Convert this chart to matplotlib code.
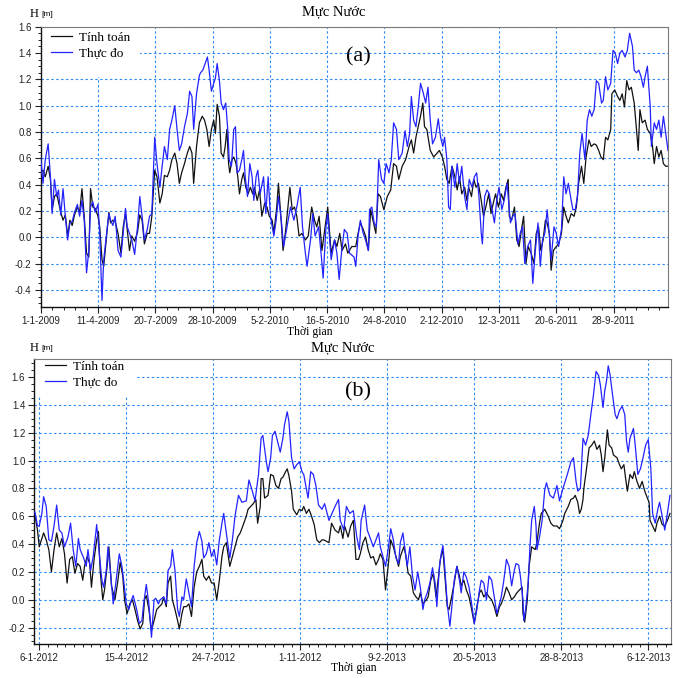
import datetime as dt
import matplotlib
matplotlib.use("Agg")
import matplotlib.pyplot as plt
from matplotlib.patches import Rectangle
from matplotlib.lines import Line2D
from matplotlib.ticker import MultipleLocator, FixedLocator, FixedFormatter, FormatStrFormatter

# ---------------------------------------------------------------- data
START_A = dt.date(2009, 1, 1)
START_B = dt.date(2012, 1, 1)

xtick_labels_a = ["1-1-2009", "11-4-2009", "20-7-2009", "28-10-2009", "5-2-2010",
                  "16-5-2010", "24-8-2010", "2-12-2010", "12-3-2011", "20-6-2011",
                  "28-9-2011"]
xtick_labels_b = ["6-1-2012", "15-4-2012", "24-7-2012", "1-11-2012", "9-2-2013",
                  "20-5-2013", "28-8-2013", "6-12-2013"]

series_names = ["Tính toán", "Thực đo"]

# (day since 1-1-2009, water level [m]) -- computed
calc_a = [
    (0, 0.49), (4, 0.51), (8, 0.46), (13, 0.54), (17, 0.44), (20, 0.21), (24, 0.31), (28, 0.33),
    (31, 0.27), (35, 0.19), (39, 0.13), (43, 0.17), (47, 0.01), (51, 0.13), (55, 0.09), (59, 0.17),
    (64, 0.23), (68, 0.19), (72, 0.37), (76, 0.16), (80, -0.12), (84, -0.15), (87, 0.37), (91, 0.23),
    (95, 0.22), (100, 0.16), (103, 0.08), (107, -0.17), (110, -0.22), (115, 0.01), (119, 0.19),
    (122, 0.11), (126, 0.13), (130, 0.12), (135, 0.03), (140, -0.12), (144, 0.08), (148, 0.18),
    (151, 0.06), (155, -0.10), (159, 0.01), (164, -0.03), (169, 0.04), (173, 0.17), (177, 0.13),
    (181, -0.05), (186, 0.03), (190, 0.03), (194, 0.16), (199, 0.51), (203, 0.46), (208, 0.26),
    (212, 0.33), (216, 0.47), (221, 0.46), (225, 0.51), (229, 0.59), (234, 0.64), (238, 0.56),
    (242, 0.41), (246, 0.49), (251, 0.56), (256, 0.64), (260, 0.69), (264, 0.64), (267, 0.41),
    (272, 0.69), (277, 0.87), (282, 0.92), (286, 0.89), (290, 0.82), (294, 0.69), (298, 0.82),
    (302, 0.89), (305, 0.79), (308, 1.01), (312, 0.92), (315, 0.64), (319, 0.61), (322, 0.69),
    (325, 0.82), (328, 0.56), (330, 0.49), (334, 0.59), (337, 0.61), (341, 0.56), (344, 0.46),
    (347, 0.33), (351, 0.44), (354, 0.49), (358, 0.38), (362, 0.33), (366, 0.38), (370, 0.33),
    (373, 0.38), (378, 0.28), (382, 0.36), (386, 0.16), (391, 0.26), (395, 0.23), (399, 0.16),
    (404, 0.13), (407, 0.03), (412, 0.23), (415, 0.41), (420, 0.11), (423, -0.10), (427, 0.03),
    (435, 0.38), (439, 0.21), (443, 0.23), (447, 0.16), (451, 0.01), (456, 0.03), (462, -0.02),
    (467, 0.01), (473, 0.23), (478, 0.13), (482, 0.08), (486, 0.16), (491, -0.10), (501, 0.23),
    (507, -0.12), (513, -0.02), (517, -0.07), (522, 0.03), (526, -0.10), (532, -0.05), (536, -0.12),
    (543, -0.07), (550, -0.07), (554, 0.03), (558, 0.11), (563, 0.06), (567, 0.01), (572, -0.10),
    (576, 0.21), (580, 0.13), (585, 0.03), (589, 0.33), (593, 0.31), (599, 0.21), (605, 0.31),
    (611, 0.36), (616, 0.56), (621, 0.54), (625, 0.44), (631, 0.54), (637, 0.59), (643, 0.69),
    (647, 0.74), (651, 0.64), (655, 0.76), (659, 0.84), (663, 0.92), (667, 1.02), (670, 0.84),
    (674, 0.82), (680, 0.66), (686, 0.61), (692, 0.64), (696, 0.66), (701, 0.61), (705, 0.54),
    (709, 0.44), (713, 0.41), (718, 0.54), (723, 0.46), (727, 0.36), (731, 0.46), (735, 0.33),
    (740, 0.38), (744, 0.28), (747, 0.38), (752, 0.31), (756, 0.44), (760, 0.38), (764, 0.41),
    (769, 0.28), (773, 0.16), (777, 0.23), (782, 0.33), (786, 0.18), (790, 0.26), (794, 0.33),
    (799, 0.23), (804, 0.33), (808, 0.28), (812, 0.38), (816, 0.44), (818, 0.16), (822, 0.13),
    (827, 0.23), (831, -0.02), (835, -0.07), (840, 0.08), (843, 0.16), (847, -0.20), (851, -0.07),
    (856, -0.12), (861, -0.20), (865, 0.03), (869, 0.08), (873, -0.10), (877, -0.02), (881, 0.13),
    (884, 0.11), (888, 0.03), (891, -0.25), (895, -0.10), (900, -0.07), (904, -0.05), (909, 0.03),
    (913, 0.23), (917, 0.16), (921, 0.11), (926, 0.18), (931, 0.16), (935, 0.23), (939, 0.41),
    (944, 0.54), (948, 0.41), (952, 0.61), (957, 0.74), (961, 0.69), (966, 0.71), (970, 0.70),
    (974, 0.66), (978, 0.61), (982, 0.59), (986, 0.76), (990, 0.74), (995, 0.82), (997, 1.09),
    (1002, 1.12), (1007, 1.07), (1011, 1.04), (1015, 1.09), (1019, 0.99), (1023, 1.19),
    (1027, 1.12), (1031, 1.14), (1036, 1.02), (1040, 0.82), (1043, 0.66), (1046, 0.97),
    (1050, 0.87), (1055, 0.89), (1059, 0.82), (1064, 0.79), (1068, 0.69), (1071, 0.56),
    (1075, 0.69), (1079, 0.61), (1083, 0.66), (1087, 0.56), (1091, 0.54), (1096, 0.54),
]

# (day since 1-1-2009, water level [m]) -- observed
obs_a = [
    (0, 0.61), (4, 0.41), (8, 0.59), (13, 0.71), (17, 0.46), (20, 0.18), (24, 0.44), (28, 0.31),
    (31, 0.36), (35, 0.17), (39, 0.37), (43, 0.16), (47, -0.02), (51, 0.11), (55, 0.12), (59, 0.19),
    (64, 0.25), (68, 0.16), (72, 0.28), (76, 0.13), (80, -0.27), (84, -0.10), (87, 0.23), (91, 0.27),
    (95, 0.19), (100, 0.25), (103, 0.03), (107, -0.48), (110, -0.17), (115, 0.03), (119, 0.18),
    (122, 0.13), (126, 0.09), (130, 0.16), (135, -0.10), (140, -0.15), (144, 0.03), (148, 0.22),
    (151, 0.08), (155, 0.03), (159, -0.02), (164, -0.13), (169, 0.08), (173, 0.31), (177, 0.16),
    (181, -0.02), (186, 0.06), (190, 0.16), (194, 0.18), (199, 0.76), (203, 0.56), (208, 0.38),
    (212, 0.54), (216, 0.69), (221, 0.59), (225, 0.82), (229, 0.89), (234, 1.00), (238, 0.82),
    (242, 0.66), (246, 0.71), (251, 0.84), (256, 0.94), (260, 1.11), (264, 1.07), (267, 0.82),
    (272, 1.09), (277, 1.23), (279, 1.25), (283, 1.27), (287, 1.32), (291, 1.37), (294, 1.27),
    (298, 1.11), (302, 1.17), (305, 1.21), (308, 1.32), (312, 1.19), (315, 1.02), (319, 0.97),
    (323, 1.02), (327, 0.79), (329, 0.59), (333, 0.54), (337, 0.82), (340, 0.84), (343, 0.49),
    (347, 0.51), (351, 0.59), (354, 0.66), (357, 0.46), (361, 0.31), (365, 0.56), (369, 0.46),
    (372, 0.28), (376, 0.46), (379, 0.51), (383, 0.33), (389, 0.46), (393, 0.18), (397, 0.46),
    (401, 0.16), (407, 0.01), (411, 0.13), (415, 0.31), (420, 0.13), (424, -0.07), (430, 0.08),
    (436, 0.23), (442, 0.13), (447, 0.23), (453, 0.38), (457, 0.08), (462, -0.12), (465, -0.22),
    (471, -0.02), (475, 0.18), (479, 0.01), (485, 0.08), (490, -0.15), (493, -0.31), (498, 0.08),
    (501, 0.18), (507, -0.17), (513, -0.02), (517, -0.12), (521, -0.32), (525, -0.12), (530, 0.06),
    (535, 0.03), (539, -0.12), (547, -0.15), (550, -0.22), (554, 0.01), (558, 0.13), (563, 0.03),
    (567, -0.02), (572, -0.10), (574, 0.21), (578, 0.23), (582, 0.11), (586, 0.08), (590, 0.59),
    (595, 0.44), (599, 0.41), (603, 0.56), (608, 0.49), (612, 0.59), (616, 0.87), (621, 0.82),
    (625, 0.59), (631, 0.64), (636, 0.81), (640, 0.69), (644, 0.79), (647, 1.07), (651, 0.89),
    (655, 0.84), (659, 0.99), (663, 1.17), (667, 1.11), (672, 1.02), (676, 1.14), (680, 0.89),
    (684, 0.71), (689, 0.76), (694, 0.90), (698, 0.76), (702, 0.69), (705, 0.76), (709, 0.59),
    (712, 0.23), (715, 0.21), (718, 0.54), (723, 0.38), (727, 0.56), (731, 0.41), (735, 0.54),
    (740, 0.31), (744, 0.21), (748, 0.44), (753, 0.38), (757, 0.46), (761, 0.49), (765, 0.31),
    (769, 0.03), (771, -0.05), (775, 0.31), (779, 0.36), (783, 0.33), (787, 0.23), (792, 0.11),
    (796, 0.28), (800, 0.38), (805, 0.21), (809, 0.28), (814, 0.41), (820, 0.11), (824, 0.16),
    (828, 0.18), (833, -0.05), (837, 0.03), (841, 0.08), (845, -0.20), (850, -0.07), (855, -0.02),
    (859, -0.35), (863, -0.12), (868, 0.11), (872, -0.22), (876, -0.02), (880, 0.03), (884, 0.21),
    (888, 0.01), (891, -0.17), (896, 0.08), (900, 0.03), (904, -0.07), (909, 0.06), (913, 0.46),
    (917, 0.33), (921, 0.41), (926, 0.28), (929, 0.21), (933, 0.21), (937, 0.31), (941, 0.64),
    (945, 0.79), (950, 0.59), (954, 0.89), (958, 0.97), (962, 0.92), (966, 0.97), (970, 1.19),
    (974, 1.17), (979, 1.02), (982, 1.04), (986, 1.22), (990, 1.12), (995, 1.17), (999, 1.42),
    (1003, 1.40), (1007, 1.32), (1011, 1.40), (1015, 1.42), (1020, 1.37), (1024, 1.42),
    (1028, 1.55), (1033, 1.45), (1036, 1.27), (1040, 1.25), (1044, 1.27), (1048, 1.22),
    (1052, 1.14), (1055, 1.22), (1059, 1.30), (1064, 0.99), (1066, 0.69), (1071, 0.87),
    (1075, 0.82), (1079, 0.89), (1083, 0.76), (1087, 0.92), (1091, 0.79), (1095, 0.66),
]

# (day since 1-1-2012, water level [m]) -- computed
calc_b = [
    (0, 0.61), (3, 0.50), (5, 0.38), (8, 0.44), (10, 0.48), (13, 0.43), (16, 0.36), (19, 0.20),
    (22, 0.36), (25, 0.48), (28, 0.38), (31, 0.44), (34, 0.33), (37, 0.12), (40, 0.29), (43, 0.31),
    (46, 0.19), (49, 0.26), (52, 0.24), (55, 0.14), (57, 0.24), (60, 0.31), (63, 0.26), (65, 0.09),
    (68, 0.29), (71, 0.43), (73, 0.49), (75, 0.21), (78, 0.00), (80, 0.07), (83, 0.24), (85, 0.38),
    (88, 0.10), (92, 0.00), (95, 0.12), (98, 0.27), (101, 0.17), (103, 0.00), (106, -0.10),
    (109, -0.03), (112, 0.00), (115, -0.07), (118, -0.15), (121, -0.21), (124, -0.17), (126, 0.00),
    (128, 0.03), (131, -0.07), (134, -0.22), (137, -0.15), (140, -0.07), (143, -0.05), (146, -0.03),
    (148, 0.02), (151, -0.05), (153, 0.12), (156, 0.17), (158, 0.00), (161, -0.07), (164, -0.15),
    (166, -0.21), (169, -0.10), (171, -0.05), (174, -0.05), (177, -0.03), (180, -0.12), (183, 0.09),
    (186, 0.20), (189, 0.24), (192, 0.29), (194, 0.17), (197, 0.14), (200, 0.17), (203, 0.12),
    (206, 0.12), (209, 0.00), (212, 0.14), (215, 0.31), (217, 0.38), (220, 0.41), (224, 0.24),
    (227, 0.31), (230, 0.38), (233, 0.45), (236, 0.48), (239, 0.53), (243, 0.60), (245, 0.65),
    (248, 0.67), (251, 0.69), (254, 0.72), (256, 0.55), (259, 0.67), (260, 0.87), (262, 0.87),
    (264, 0.73), (268, 0.75), (271, 0.90), (274, 0.89), (277, 0.82), (280, 0.80), (283, 0.87),
    (285, 0.88), (289, 0.93), (290, 0.94), (292, 0.89), (295, 0.78), (297, 0.65), (301, 0.61),
    (304, 0.65), (307, 0.64), (309, 0.67), (312, 0.62), (315, 0.65), (318, 0.60), (321, 0.54),
    (324, 0.43), (327, 0.41), (330, 0.43), (332, 0.43), (335, 0.42), (338, 0.41), (341, 0.55),
    (345, 0.50), (349, 0.48), (351, 0.53), (354, 0.44), (356, 0.53), (360, 0.45), (363, 0.53),
    (366, 0.57), (369, 0.29), (372, 0.29), (374, 0.33), (377, 0.41), (380, 0.45), (383, 0.36),
    (386, 0.30), (389, 0.31), (392, 0.25), (395, 0.29), (397, 0.33), (400, 0.29), (403, 0.07),
    (406, 0.24), (409, 0.43), (412, 0.38), (415, 0.31), (418, 0.24), (420, 0.31), (424, 0.38),
    (426, 0.33), (429, 0.19), (432, 0.17), (435, 0.05), (438, 0.02), (441, 0.00), (443, 0.05),
    (446, -0.03), (450, 0.00), (452, 0.02), (455, 0.14), (458, 0.19), (461, 0.02), (464, 0.17),
    (466, 0.29), (469, 0.36), (471, 0.19), (474, -0.05), (476, -0.07), (479, 0.02), (482, 0.12),
    (485, 0.24), (488, 0.17), (490, 0.10), (493, 0.14), (496, 0.07), (499, 0.02), (502, -0.07),
    (505, -0.17), (508, -0.05), (511, 0.05), (513, 0.07), (516, 0.02), (519, 0.05), (522, 0.02),
    (525, 0.00), (528, -0.05), (531, -0.12), (534, -0.05), (536, -0.03), (539, 0.02), (542, 0.09),
    (545, 0.05), (548, 0.00), (551, 0.02), (554, 0.05), (557, 0.07), (560, 0.09), (561, -0.10),
    (563, -0.16), (566, 0.00), (568, 0.24), (571, 0.38), (575, 0.36), (577, 0.41), (580, 0.55),
    (582, 0.62), (586, 0.65), (590, 0.60), (593, 0.55), (596, 0.53), (600, 0.53), (603, 0.51),
    (607, 0.57), (609, 0.62), (613, 0.67), (616, 0.72), (619, 0.73), (621, 0.75), (624, 0.70),
    (626, 0.62), (628, 0.65), (630, 0.72), (631, 0.80), (634, 0.94), (637, 1.09), (640, 1.11),
    (643, 1.14), (646, 1.08), (649, 1.11), (651, 1.04), (653, 0.92), (655, 1.02), (658, 1.22),
    (660, 1.11), (663, 1.09), (665, 1.04), (669, 1.02), (672, 0.97), (674, 0.94), (677, 0.97),
    (679, 0.87), (681, 0.78), (684, 0.90), (687, 0.87), (689, 0.92), (692, 0.85), (695, 0.80),
    (698, 0.85), (701, 0.78), (704, 0.73), (706, 0.70), (707, 0.57), (710, 0.53), (713, 0.49),
    (715, 0.55), (718, 0.60), (721, 0.54), (724, 0.53), (727, 0.57), (730, 0.62),
]

# (day since 1-1-2012, water level [m]) -- observed
obs_b = [
    (0, 0.63), (3, 0.53), (5, 0.53), (8, 0.62), (10, 0.74), (13, 0.67), (16, 0.43), (19, 0.42),
    (22, 0.53), (25, 0.68), (28, 0.50), (31, 0.48), (34, 0.38), (38, 0.45), (41, 0.55), (44, 0.36),
    (47, 0.24), (50, 0.44), (52, 0.36), (56, 0.30), (59, 0.24), (61, 0.36), (64, 0.21), (67, 0.31),
    (71, 0.54), (74, 0.33), (77, 0.14), (79, 0.09), (82, 0.21), (84, 0.38), (87, 0.19), (90, -0.03),
    (93, 0.12), (97, 0.33), (100, 0.24), (102, 0.14), (105, -0.03), (108, -0.07), (111, 0.00),
    (113, 0.03), (117, -0.07), (120, -0.17), (123, -0.15), (125, -0.03), (128, 0.11), (131, -0.03),
    (134, -0.27), (137, 0.00), (139, 0.01), (142, -0.03), (144, 0.00), (148, 0.02), (151, -0.03),
    (153, 0.21), (156, 0.24), (158, 0.36), (161, 0.21), (164, -0.07), (166, -0.12), (169, 0.02),
    (171, 0.00), (174, 0.15), (177, 0.05), (180, -0.05), (183, 0.24), (186, 0.41), (189, 0.49),
    (192, 0.42), (194, 0.30), (197, 0.33), (200, 0.41), (203, 0.31), (206, 0.36), (209, 0.25),
    (212, 0.43), (215, 0.55), (217, 0.62), (220, 0.48), (224, 0.30), (227, 0.43), (230, 0.60),
    (234, 0.75), (238, 0.70), (243, 0.71), (246, 0.86), (249, 0.80), (253, 0.71), (257, 0.90),
    (260, 1.16), (262, 1.18), (266, 0.99), (268, 0.92), (271, 1.02), (273, 1.18), (276, 1.21),
    (278, 1.16), (282, 1.06), (285, 1.16), (287, 1.26), (290, 1.35), (292, 1.28), (295, 1.02),
    (298, 0.94), (301, 0.97), (304, 0.99), (307, 0.92), (309, 0.90), (312, 0.80), (314, 0.73),
    (317, 0.92), (320, 0.90), (323, 0.82), (326, 0.68), (330, 0.65), (333, 0.69), (338, 0.57),
    (345, 0.67), (349, 0.72), (351, 0.57), (355, 0.50), (358, 0.67), (362, 0.62), (366, 0.64),
    (370, 0.45), (373, 0.36), (375, 0.57), (379, 0.68), (382, 0.50), (385, 0.45), (389, 0.38),
    (392, 0.43), (395, 0.48), (397, 0.38), (400, 0.31), (403, 0.24), (406, 0.36), (409, 0.51),
    (412, 0.43), (415, 0.30), (418, 0.26), (420, 0.41), (423, 0.48), (425, 0.38), (428, 0.24),
    (431, 0.38), (434, 0.17), (437, 0.07), (440, 0.20), (443, 0.09), (446, -0.07), (448, 0.00),
    (451, 0.05), (454, 0.12), (457, 0.23), (460, 0.12), (462, -0.05), (465, 0.24), (467, 0.33),
    (469, 0.39), (471, 0.24), (474, -0.03), (477, -0.19), (480, 0.00), (482, 0.14), (485, 0.24),
    (488, 0.14), (490, 0.05), (493, 0.20), (496, 0.16), (499, 0.09), (502, -0.03), (505, -0.17),
    (508, -0.07), (511, 0.07), (513, 0.14), (516, 0.12), (519, 0.00), (522, 0.17), (525, 0.14),
    (528, 0.02), (531, -0.10), (534, -0.03), (536, 0.02), (539, 0.14), (542, 0.29), (545, 0.24),
    (548, 0.10), (551, 0.21), (553, 0.26), (556, 0.25), (558, 0.17), (561, 0.00), (562, -0.15),
    (564, -0.07), (567, 0.12), (569, 0.38), (571, 0.57), (574, 0.67), (576, 0.53), (577, 0.36),
    (580, 0.45), (583, 0.57), (586, 0.79), (588, 0.84), (592, 0.75), (596, 0.73), (600, 0.82),
    (603, 0.71), (607, 0.80), (612, 0.90), (616, 0.99), (619, 1.02), (622, 0.85), (624, 0.78),
    (627, 0.80), (630, 1.16), (633, 1.11), (636, 1.18), (639, 1.33), (642, 1.47), (645, 1.64),
    (648, 1.61), (650, 1.54), (653, 1.38), (655, 1.50), (657, 1.57), (659, 1.68), (661, 1.62),
    (664, 1.47), (667, 1.33), (669, 1.30), (672, 1.36), (675, 1.39), (678, 1.33), (680, 1.14),
    (682, 1.06), (684, 1.16), (688, 1.23), (690, 1.11), (693, 0.90), (696, 0.94), (699, 1.02),
    (702, 1.11), (705, 1.15), (708, 0.94), (710, 0.62), (713, 0.55), (716, 0.65), (718, 0.70),
    (721, 0.60), (724, 0.50), (727, 0.62), (730, 0.75),
]

# ---------------------------------------------------------------- style
FIG_W, FIG_H = 673, 678
SERIF = ["Liberation Serif", "DejaVu Serif"]
SANS = ["Liberation Sans", "DejaVu Sans"]
GRID_COLOR = "#2f8cf5"
CALC_COLOR = "#111111"
OBS_COLOR = "#2323ff"


def day_of(label, start):
    d, m, y = map(int, label.split("-"))
    return (dt.date(y, m, d) - start).days


def fx(x_px):
    return x_px / FIG_W


def fy(y_px):
    return 1 - y_px / FIG_H


def unzip(points):
    return [p[0] for p in points], [p[1] for p in points]


fig = plt.figure(figsize=(FIG_W / 100, FIG_H / 100), dpi=100)


def panel(box_px, start, labels, minor_step, minor_offset, xlim, ylim, yticks,
          calc, obs, tag, tag_px, legend_px, mask_px, title_px, h_px, xlabel_px):
    left, top, right, bottom = box_px
    ax = fig.add_axes([fx(left), fy(bottom), (right - left) / FIG_W, (bottom - top) / FIG_H])
    ax.set_axisbelow(True)

    xc, yc = unzip(calc)
    xo, yo = unzip(obs)
    ax.plot(xc, yc, color=CALC_COLOR, lw=0.9, zorder=3)
    ax.plot(xo, yo, color=OBS_COLOR, lw=0.9, zorder=3)

    ax.set_xlim(*xlim)
    ax.set_ylim(*ylim)

    ticks = [day_of(l, start) for l in labels]
    ax.xaxis.set_major_locator(FixedLocator(ticks))
    ax.xaxis.set_major_formatter(FixedFormatter(labels))
    ax.xaxis.set_minor_locator(MultipleLocator(minor_step, offset=minor_offset))
    ax.yaxis.set_major_locator(FixedLocator(yticks))
    ax.yaxis.set_major_formatter(FormatStrFormatter("%.1f"))
    ax.yaxis.set_minor_locator(MultipleLocator(0.05))

    ax.tick_params(which="major", direction="out", length=4, width=0.8,
                   labelsize=7, pad=2.5, colors="#222222")
    ax.tick_params(which="minor", direction="out", length=2.3, width=0.7, colors="#222222")
    for lab in ax.get_xticklabels() + ax.get_yticklabels():
        lab.set_fontfamily(SANS)

    ax.grid(which="major", color=GRID_COLOR, linestyle=(0, (2.2, 2.2)), linewidth=0.8)

    for side in ("left", "bottom"):
        ax.spines[side].set_color("#111111")
        ax.spines[side].set_linewidth(1.0)
    for side in ("top", "right"):
        ax.spines[side].set_color("#7a7a7a")
        ax.spines[side].set_linewidth(0.8)

    # white patch behind the legend, hides grid there
    mx0, my0, mx1, my1 = mask_px
    ax.add_patch(Rectangle((fx(mx0), fy(my1)), fx(mx1) - fx(mx0), fy(my0) - fy(my1),
                           transform=fig.transFigure, facecolor="white",
                           edgecolor="none", zorder=1))

    handles = [Line2D([], [], color=CALC_COLOR, lw=0.9),
               Line2D([], [], color=OBS_COLOR, lw=0.9)]
    ax.legend(handles, series_names, loc="upper left",
              bbox_to_anchor=(fx(legend_px[0]), fy(legend_px[1])),
              bbox_transform=fig.transFigure, frameon=False, borderpad=0,
              borderaxespad=0, handlelength=1.6, handletextpad=0.55,
              labelspacing=0.28, prop={"family": SERIF, "size": 9.5})

    fig.text(fx(tag_px[0]), fy(tag_px[1]), tag, family=SERIF, fontsize=16,
             ha="center", va="center")
    fig.text(fx(title_px[0]), fy(title_px[1]), "Mực Nước", family=SERIF,
             fontsize=10.5, ha="center", va="center")
    fig.text(fx(h_px[0]), fy(h_px[1]), "H", family=SERIF, fontsize=9,
             ha="left", va="center")
    fig.text(fx(h_px[0] + 11), fy(h_px[1] + 1), "[m]", family=SANS, fontsize=6,
             ha="left", va="center")
    fig.text(fx(xlabel_px[0]), fy(xlabel_px[1]), "Thời gian", family=SERIF,
             fontsize=8.5, ha="center", va="center")
    return ax


panel(box_px=(40.7, 26.7, 668.0, 306.7), start=START_A, labels=xtick_labels_a,
      minor_step=20, minor_offset=0, xlim=(0, 1095), ylim=(-0.527, 1.6),
      yticks=[-0.4, -0.2, 0.0, 0.2, 0.4, 0.6, 0.8, 1.0, 1.2, 1.4, 1.6],
      calc=calc_a, obs=obs_a, tag="(a)", tag_px=(358, 57),
      legend_px=(50.7, 31.5), mask_px=(41.5, 27.5, 140, 77),
      title_px=(334, 12), h_px=(30, 14), xlabel_px=(310, 332))

panel(box_px=(34.3, 359.3, 670.7, 644.0), start=START_B, labels=xtick_labels_b,
      minor_step=10, minor_offset=5, xlim=(-0.7, 730.8), ylim=(-0.318, 1.727),
      yticks=[-0.2, 0.0, 0.2, 0.4, 0.6, 0.8, 1.0, 1.2, 1.4, 1.6],
      calc=calc_b, obs=obs_b, tag="(b)", tag_px=(358, 392),
      legend_px=(45, 360.5), mask_px=(35.1, 360.1, 135, 397),
      title_px=(343, 348), h_px=(30, 348), xlabel_px=(354, 668))

fig.savefig("out.png", dpi=100)
